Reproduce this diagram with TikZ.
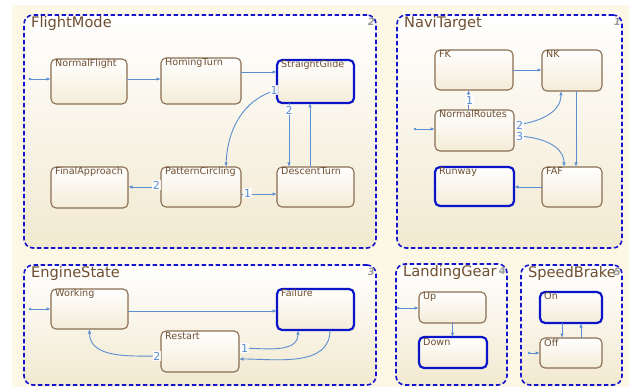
\documentclass[tikz,border=0pt]{standalone}
\usepackage{fontspec}
\setmainfont{DejaVu Sans}
\usetikzlibrary{arrows.meta,calc}
\definecolor{bgc}{HTML}{FDF8E6}
\definecolor{contbot}{HTML}{F2E9D0}
\definecolor{stbot}{HTML}{F4ECD8}
\definecolor{dblue}{HTML}{1414CC}
\definecolor{ablue}{HTML}{0A14C8}
\definecolor{stb}{HTML}{8A6E52}
\definecolor{tblue}{HTML}{5A8ED0}
\definecolor{txtb}{HTML}{6E4E30}
\definecolor{numg}{HTML}{9A9A9A}
\begin{document}
\begin{tikzpicture}[x=1pt,y=-1pt,
  cont/.style={draw=dblue, line width=1.6pt, dash pattern=on 4.5pt off 2.5pt, rounded corners=9pt,
    top color=white, bottom color=contbot, anchor=north west, inner sep=0pt, outer sep=0pt},
  st/.style={draw=stb, line width=1.1pt, rounded corners=5pt, top color=white, bottom color=stbot,
    anchor=north west, inner sep=0pt, outer sep=0pt},
  act/.style={st, draw=ablue, line width=2.2pt},
  tr/.style={draw=tblue, line width=0.9pt, -{Latex[open,length=4.5pt,width=3.5pt]}},
  tl/.style={fill=white, fill opacity=0.9, text opacity=1, text=tblue, font=\fontsize{11}{11}\selectfont, inner sep=0.6pt},
  ttl/.style={text=txtb, font=\fontsize{14.6}{15}\selectfont, anchor=base west, inner sep=0pt, xshift=7pt, yshift=-13pt},
  num/.style={text=numg, font=\fontsize{10}{10}\selectfont\bfseries\itshape, anchor=base east, inner sep=0pt, xshift=-1pt, yshift=-11pt},
  sl/.style={text=txtb, font=\fontsize{9.6}{10}\selectfont, anchor=base west, inner sep=0pt, xshift=4pt, yshift=-8pt},
  dot/.style={fill=tblue}
]
\useasboundingbox (0,0) rectangle (629,387);
\fill[white] (0,0) rectangle (629,387);
\fill[bgc] (12,5) rectangle (629,387);

% ---------------- containers
\node[cont, minimum width=352pt, minimum height=233pt,
  label={[ttl]north west:FlightMode}, label={[num]north east:2}] (fm) at (24,15) {};
\node[cont, minimum width=225pt, minimum height=233pt,
  label={[ttl]north west:NaviTarget}, label={[num]north east:1}] (nt) at (397,15) {};
\node[cont, minimum width=352pt, minimum height=120pt,
  label={[ttl]north west:EngineState}, label={[num]north east:3}] (es) at (24,265) {};
\node[cont, minimum width=111pt, minimum height=121pt,
  label={[ttl]north west:LandingGear}, label={[num]north east:4}] (lg) at (396,264) {};
\node[cont, minimum width=101pt, minimum height=120pt,
  label={[ttl]north west:SpeedBrake}, label={[num]north east:5}] (sb) at (521,265) {};

% ---------------- FlightMode states
\node[st, minimum width=76pt, minimum height=45pt, label={[sl]north west:NormalFlight}] (nf) at (51,59) {};
\node[st, minimum width=80pt, minimum height=46pt, label={[sl]north west:HomingTurn}] (ht) at (161,58) {};
\node[act, minimum width=77pt, minimum height=43pt, label={[sl]north west:StraightGlide}] (sg) at (277,60) {};
\node[st, minimum width=77pt, minimum height=41pt, label={[sl]north west:FinalApproach}] (fa) at (51,167) {};
\node[st, minimum width=80pt, minimum height=40pt, label={[sl]north west:PatternCircling}] (pc) at (161,167) {};
\node[st, minimum width=77pt, minimum height=40pt, label={[sl]north west:DescentTurn}] (dt) at (277,167) {};

\coordinate (d1) at (30,79);
\fill[dot] (d1) circle (1.3pt);
\draw[tr] (d1) -- (d1 -| nf.west);
\draw[tr] (d1 -| nf.east) -- (d1 -| ht.west);
\draw[tr] ([yshift=9pt]ht.east) -- ([yshift=9pt]ht.east -| sg.west);
\draw[tr] ([yshift=-8.5pt]sg.west) node[tl, xshift=-3pt] {1} to[out=195, in=88] ([xshift=25pt]pc.north);
\draw[tr] ([xshift=-26.5pt]sg.south) -- node[tl, pos=0.11] {2} ([xshift=-26.5pt]sg.south |- dt.north);
\draw[tr] ([xshift=-5.5pt]dt.north) -- ([xshift=-5.5pt]dt.north |- sg.south);
\draw[tr] (pc.west) node[tl, anchor=east, yshift=2pt] {2} -- (pc.west -| fa.east);
\draw[tr] ([yshift=-7pt]pc.east) node[tl, anchor=west, xshift=2pt, yshift=1pt] {1} -- ([yshift=-7pt]pc.east -| dt.west);

% ---------------- NaviTarget states
\node[st, minimum width=78pt, minimum height=40pt, label={[sl]north west:FK}] (fk) at (435,50) {};
\node[st, minimum width=60pt, minimum height=41pt, label={[sl]north west:NK}] (nk) at (542,50) {};
\node[st, minimum width=79pt, minimum height=41pt, label={[sl]north west:NormalRoutes}] (nr) at (435,110) {};
\node[act, minimum width=79pt, minimum height=39pt, label={[sl]north west:Runway}] (rw) at (435,167) {};
\node[st, minimum width=60pt, minimum height=40pt, label={[sl]north west:FAF}] (faf) at (542,167) {};

\coordinate (d2) at (415,129);
\fill[dot] (d2) circle (1.3pt);
\draw[tr] (d2) -- (d2 -| nr.west);
\draw[tr] ([xshift=-6pt]nr.north) -- node[tl, pos=0.5, xshift=1pt] {1} ([xshift=-6pt]nr.north |- fk.south);
\draw[tr] (fk.east) -- (fk.east -| nk.west);
\draw[tr] ([yshift=5.5pt]nr.east) node[tl, anchor=west, xshift=1pt] {2} to[out=5, in=270] ([xshift=-11pt]nk.south);
\draw[tr] ([yshift=-5.5pt]nr.east) node[tl, anchor=west, xshift=1pt] {3} to[out=0, in=90] ([xshift=-8pt]faf.north);
\draw[tr] ([xshift=4pt]nk.south) -- ([xshift=4pt]nk.south |- faf.north);
\draw[tr] (faf.west) -- (faf.west -| rw.east);

% ---------------- EngineState states
\node[st, minimum width=77pt, minimum height=40pt, label={[sl]north west:Working}] (wk) at (51,289) {};
\node[act, minimum width=77pt, minimum height=41pt, label={[sl]north west:Failure}] (fl) at (277,289) {};
\node[st, minimum width=78pt, minimum height=41pt, label={[sl]north west:Restart}] (rs) at (161,331) {};

\coordinate (d3) at (30,309);
\fill[dot] (d3) circle (1.3pt);
\draw[tr] (d3) -- (d3 -| wk.west);
\draw[tr] ([yshift=-2pt]wk.east) -- ([yshift=-2pt]wk.east -| fl.west);
\draw[tr] ([yshift=-4.5pt]rs.west) node[tl, anchor=east, xshift=0.5pt] {2} to[out=180, in=270] (wk.south);
\draw[tr] ([yshift=3.5pt]rs.east) node[tl, anchor=west, xshift=1pt] {1} to[out=0, in=270] ([xshift=-17.5pt]fl.south);
\draw[tr] ([xshift=14.5pt]fl.south) to[out=270, in=0] ([yshift=-7.5pt]rs.east);

% ---------------- LandingGear states
\node[st, minimum width=67pt, minimum height=31pt, label={[sl]north west:Up}] (up) at (419,292) {};
\node[act, minimum width=68pt, minimum height=31pt, label={[sl]north west:Down}] (dn) at (419,337) {};

\coordinate (d4) at (398,308);
\fill[dot] (d4) circle (1.3pt);
\draw[tr] (d4) -- (d4 -| up.west);
\draw[tr] (up.south) -- (up.south |- dn.north);

% ---------------- SpeedBrake states
\node[act, minimum width=62pt, minimum height=31pt, label={[sl]north west:On}] (on) at (540,292) {};
\node[st, minimum width=62pt, minimum height=30pt, label={[sl]north west:Off}] (off) at (540,338) {};

\coordinate (d5) at (529,353);
\fill[dot] (d5) circle (1.3pt);
\draw[tr] (d5) -- (d5 -| off.west);
\draw[tr] ([xshift=-9pt]on.south) -- ([xshift=-9pt]on.south |- off.north);
\draw[tr] ([xshift=10pt]off.north) -- ([xshift=10pt]off.north |- on.south);
\end{tikzpicture}
\end{document}
